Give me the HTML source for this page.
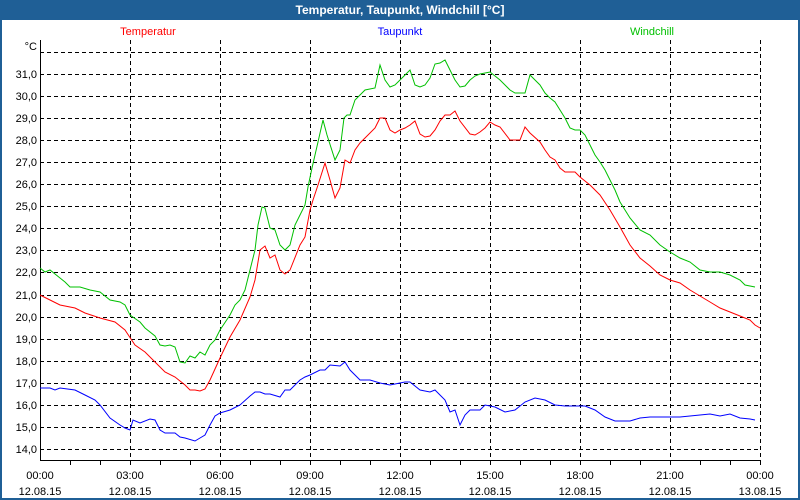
<!DOCTYPE html>
<html><head><meta charset="utf-8"><style>
html,body{margin:0;padding:0;}
body{width:800px;height:500px;background:#1f5f96;position:relative;overflow:hidden;font-family:"Liberation Sans",sans-serif;}
</style></head><body>
<svg width="800" height="500" style="position:absolute;left:0;top:0" font-family="Liberation Sans, sans-serif">
<rect x="0" y="0" width="800" height="500" fill="#1f5f96"/>
<rect x="2" y="20" width="796" height="478" fill="#fff"/>
<text x="400" y="14" fill="#fff" font-size="12" font-weight="bold" text-anchor="middle">Temperatur, Taupunkt, Windchill [°C]</text>
<g font-size="11">
<text x="148" y="35" fill="#ff0000" text-anchor="middle">Temperatur</text>
<text x="400" y="35" fill="#0000ff" text-anchor="middle">Taupunkt</text>
<text x="652" y="35" fill="#00c000" text-anchor="middle">Windchill</text>
</g>
<g stroke="#000" stroke-dasharray="4,3" stroke-width="1">
<line x1="40" x2="760" y1="52.5" y2="52.5"/><line x1="40" x2="760" y1="74.5" y2="74.5"/><line x1="40" x2="760" y1="96.5" y2="96.5"/><line x1="40" x2="760" y1="118.5" y2="118.5"/><line x1="40" x2="760" y1="140.5" y2="140.5"/><line x1="40" x2="760" y1="162.5" y2="162.5"/><line x1="40" x2="760" y1="184.5" y2="184.5"/><line x1="40" x2="760" y1="206.5" y2="206.5"/><line x1="40" x2="760" y1="228.5" y2="228.5"/><line x1="40" x2="760" y1="250.5" y2="250.5"/><line x1="40" x2="760" y1="272.5" y2="272.5"/><line x1="40" x2="760" y1="295.5" y2="295.5"/><line x1="40" x2="760" y1="317.5" y2="317.5"/><line x1="40" x2="760" y1="339.5" y2="339.5"/><line x1="40" x2="760" y1="361.5" y2="361.5"/><line x1="40" x2="760" y1="383.5" y2="383.5"/><line x1="40" x2="760" y1="405.5" y2="405.5"/><line x1="40" x2="760" y1="427.5" y2="427.5"/><line x1="40" x2="760" y1="449.5" y2="449.5"/>
<line x1="130.5" x2="130.5" y1="40" y2="460"/><line x1="220.5" x2="220.5" y1="40" y2="460"/><line x1="310.5" x2="310.5" y1="40" y2="460"/><line x1="400.5" x2="400.5" y1="40" y2="460"/><line x1="490.5" x2="490.5" y1="40" y2="460"/><line x1="580.5" x2="580.5" y1="40" y2="460"/><line x1="670.5" x2="670.5" y1="40" y2="460"/><line x1="760.5" x2="760.5" y1="40" y2="460"/>
</g>
<g stroke="#000" stroke-width="1">
<line x1="40.5" x2="40.5" y1="40" y2="461"/><line x1="40" x2="761" y1="460.5" y2="460.5"/>
<path d="M70.5 460V465M100.5 460V465M130.5 460V465M160.5 460V465M190.5 460V465M220.5 460V465M250.5 460V465M280.5 460V465M310.5 460V465M340.5 460V465M370.5 460V465M400.5 460V465M430.5 460V465M460.5 460V465M490.5 460V465M520.5 460V465M550.5 460V465M580.5 460V465M610.5 460V465M640.5 460V465M670.5 460V465M700.5 460V465M730.5 460V465M760.5 460V465"/>
</g>
<g font-size="11" fill="#000" text-anchor="end">
<text x="37" y="50">°C</text>
<text x="37" y="78">31,0</text><text x="37" y="100">30,0</text><text x="37" y="122">29,0</text><text x="37" y="144">28,0</text><text x="37" y="166">27,0</text><text x="37" y="188">26,0</text><text x="37" y="210">25,0</text><text x="37" y="232">24,0</text><text x="37" y="254">23,0</text><text x="37" y="276">22,0</text><text x="37" y="299">21,0</text><text x="37" y="321">20,0</text><text x="37" y="343">19,0</text><text x="37" y="365">18,0</text><text x="37" y="387">17,0</text><text x="37" y="409">16,0</text><text x="37" y="431">15,0</text><text x="37" y="453">14,0</text>
</g>
<g font-size="11" fill="#000" text-anchor="middle">
<text x="40" y="479">00:00</text><text x="40" y="495">12.08.15</text>
<text x="130" y="479">03:00</text><text x="130" y="495">12.08.15</text>
<text x="220" y="479">06:00</text><text x="220" y="495">12.08.15</text>
<text x="310" y="479">09:00</text><text x="310" y="495">12.08.15</text>
<text x="400" y="479">12:00</text><text x="400" y="495">12.08.15</text>
<text x="490" y="479">15:00</text><text x="490" y="495">12.08.15</text>
<text x="580" y="479">18:00</text><text x="580" y="495">12.08.15</text>
<text x="670" y="479">21:00</text><text x="670" y="495">12.08.15</text>
<text x="760" y="479">00:00</text><text x="760" y="495">13.08.15</text>
</g>
<g fill="none" stroke-width="1">
<polyline stroke="#00c000" points="40,268 45,272 50,270 60,278 65,282 70,287 80,287 90,290 100,292 110,300 120,302 125,305 130,315 140,322 145,328 155,336 160,345 165,346 170,345 175,347 180,362 185,363 190,356 195,358 200,352 205,355 210,345 215,340 220,330 230,315 235,305 240,300 245,290 250,270 255,250 258,225 262,207 265,208 270,228 275,230 280,245 285,250 290,245 295,225 300,215 305,205 308,187 312,168 315,155 318,142 323,120 327,135 335,160 340,150 344,118 347,115 350,115 355,100 365,90 375,88 380,65 385,80 390,87 395,85 400,80 405,75 410,70 415,85 420,87 425,85 430,78 435,64 440,63 445,60 450,70 455,80 460,87 465,86 470,80 475,76 480,74 490,72 500,80 505,85 510,90 515,93 520,93 525,93 530,75 535,80 540,85 545,93 550,98 555,102 560,110 565,118 570,128 575,130 580,130 585,135 590,145 595,155 600,162 605,170 610,180 615,190 620,202 630,218 640,230 650,235 660,245 670,252 680,258 690,262 700,270 710,272 720,272 730,275 740,280 745,285 755,287"/>
<polyline stroke="#ff0000" points="40,295 50,300 60,305 75,308 85,313 100,318 115,322 125,330 135,345 145,352 155,362 165,372 175,377 185,385 190,390 195,390 200,391 205,389 210,380 220,358 230,337 240,320 250,297 255,280 260,250 265,246 270,258 275,255 280,270 285,274 290,270 300,245 305,237 310,210 313,200 318,185 325,163 330,180 335,198 340,188 345,160 350,163 355,150 360,143 365,138 375,128 380,118 385,118 390,130 395,133 400,130 405,128 410,125 415,121 420,134 425,137 430,136 435,130 440,121 445,115 450,115 455,111 460,121 470,134 475,135 480,132 485,128 490,122 495,125 500,127 510,140 520,140 525,127 530,133 540,142 545,150 550,157 555,160 560,168 565,172 570,172 575,172 580,177 590,185 600,195 610,210 620,227 630,245 640,258 650,266 660,275 670,280 680,283 690,290 700,296 710,302 720,308 730,312 740,316 750,320 755,325 760,328"/>
<polyline stroke="#0000ff" points="40,388 50,388 55,390 60,388 75,390 85,395 95,400 100,405 110,418 120,425 125,428 130,430 133,420 140,423 150,419 155,420 160,430 165,433 175,433 180,437 185,438 195,441 200,438 205,435 210,425 215,416 220,413 230,410 240,405 250,396 255,392 260,392 265,394 270,394 280,397 285,390 290,390 300,380 305,377 310,375 320,370 325,370 330,365 340,366 345,362 350,370 360,380 370,380 380,383 390,385 400,383 405,382 410,382 420,390 430,392 435,390 445,400 450,412 455,410 460,425 465,415 470,410 480,410 485,405 495,407 505,412 515,410 525,402 535,398 545,400 555,405 565,406 575,406 585,406 595,410 605,417 615,421 630,421 640,418 650,417 660,417 670,417 680,417 700,415 710,414 720,416 730,414 740,418 750,419 755,420"/>
</g>
</svg>
</body></html>
